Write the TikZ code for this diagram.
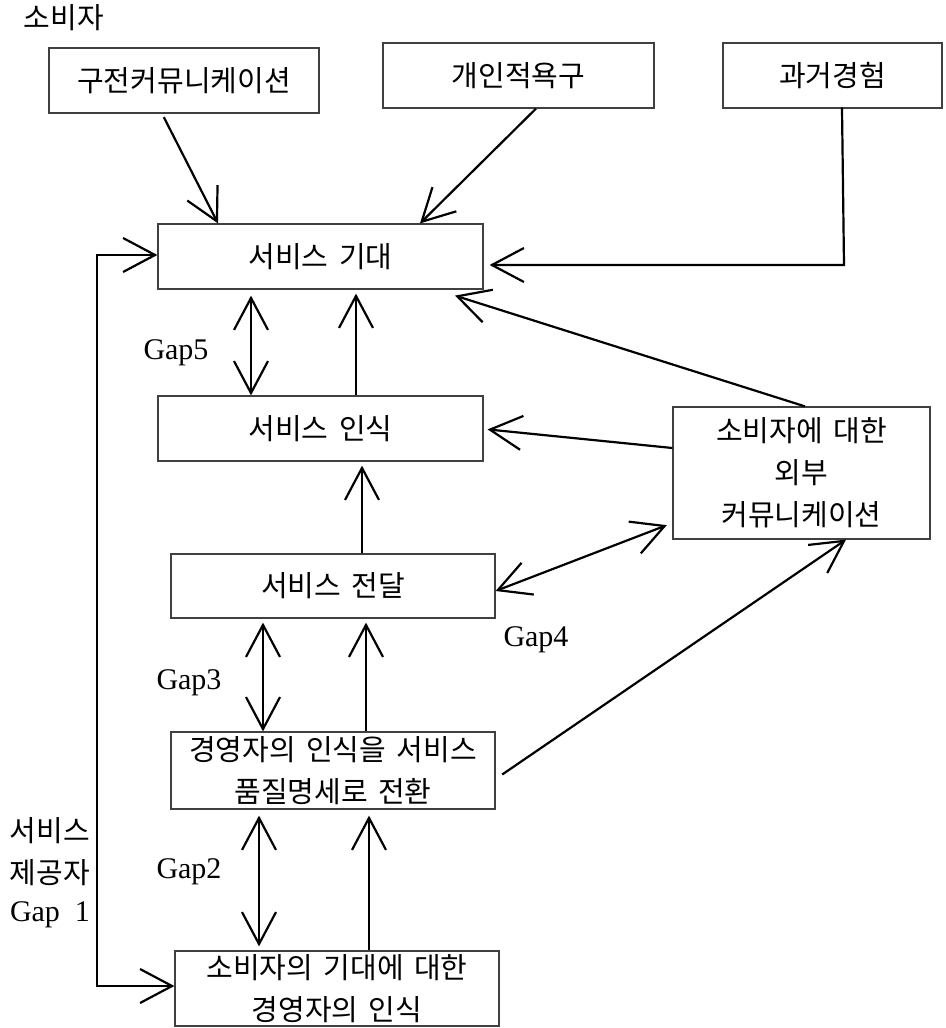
\documentclass[tikz,border=0pt]{standalone}
\usepackage{fontspec}
\setmainfont{Liberation Serif}
\newfontfamily\kr[WordSpace=1.6]{Noto Sans CJK KR}
\usetikzlibrary{arrows.meta,calc}
\tikzset{
  box/.style={draw=black!75, line width=0.6pt, inner sep=0pt, align=center,
              font=\kr\fontsize{14.5}{21}\selectfont},
  conn/.style={line width=1.1pt, -{Straight Barb[length=16pt,width=17pt,line width=1.1pt]}},
  dconn/.style={line width=1.1pt, {Straight Barb[length=16pt,width=17pt,line width=1.1pt]}-{Straight Barb[length=16pt,width=17pt,line width=1.1pt]}},
  lbl/.style={font=\fontsize{15}{21}\selectfont, inner sep=0pt, align=center},
  klbl/.style={font=\kr\fontsize{14.5}{21}\selectfont, inner sep=0pt, align=center}
}
\begin{document}
\begin{tikzpicture}[x=0.5pt,y=-0.5pt]
\useasboundingbox (0,0) rectangle (946,1028);
% boxes
\node[box, minimum width=135pt, minimum height=32.5pt] (wom) at (184,80.5) {구전커뮤니케이션};
\node[box, minimum width=135.5pt, minimum height=32.5pt] (need) at (518.5,75.5) {개인적욕구};
\node[box, minimum width=109.5pt, minimum height=32.5pt] (past) at (832.5,75.5) {과거경험};
\node[box, minimum width=162.5pt, minimum height=32.5pt] (exp) at (320.5,256.5) {서비스 기대};
\node[box, minimum width=162.5pt, minimum height=32.5pt] (perc) at (320.5,428.5) {서비스 인식};
\node[box, minimum width=162pt, minimum height=32pt] (deliv) at (333,586) {서비스 전달};
\node[box, minimum width=128.5pt, minimum height=66pt] (ext) at (801.5,473) {소비자에 대한\\외부\\커뮤니케이션};
\node[box, minimum width=162pt, minimum height=38.5pt] (spec) at (333,770.5) {경영자의 인식을 서비스\\품질명세로 전환};
\node[box, minimum width=162pt, minimum height=37.5pt] (mgmt) at (337,988.5) {소비자의 기대에 대한\\경영자의 인식};
% labels
\node[klbl] (cons) at (64,18) {소비자};
\node[lbl] (g5) at (176,353) {Gap5};
\node[lbl] (g4) at (536,640) {Gap4};
\node[lbl] (g3) at (189,683) {Gap3};
\node[lbl] (g2) at (189,872) {Gap2};
\node[klbl] (prov) at (50,852) {서비스\\제공자};
\node[lbl] (g1) at (50,915) {Gap\hspace{0.5em}1};
% coordinates
\coordinate (pc) at (844,265);
\coordinate (lt) at (97,255);
\coordinate (lb) at (97,986);
% connectors from top
\draw[conn, shorten <=2pt] (wom.south -| 162,0) -- (exp.north -| 218,0);
\draw[conn] (need.south -| 536,0) -- (exp.north -| 420,0);
\draw[conn, shorten >=3pt, line cap=rect] (past.south -| 842,0) -- (pc) -- (exp.east |- pc);
% left loop
\draw[dconn] (exp.west |- lt) -- (lt) -- (lb) -- (mgmt.west |- lb);
% vertical
\draw[dconn, shorten <=3pt] (exp.south -| 251,0) -- (perc.north -| 251,0);
\draw[conn, shorten >=2pt] (perc.north -| 356,0) -- (exp.south -| 356,0);
\draw[conn, shorten >=2pt] (deliv.north -| 362,0) -- (perc.south -| 362,0);
\draw[dconn, shorten <=2pt] (deliv.south -| 263,0) -- (spec.north -| 263,0);
\draw[conn, shorten >=2pt] (spec.north -| 366,0) -- (deliv.south -| 366,0);
\draw[dconn, shorten <=3pt, shorten >=2pt] (spec.south -| 259,0) -- (mgmt.north -| 259,0);
\draw[conn, shorten >=3pt] (mgmt.north -| 369,0) -- (spec.south -| 369,0);
% diagonals with ext
\draw[conn] (ext.north -| 805,0) -- ($(exp.south -| 455,0)+(0,6)$);
\draw[conn, shorten >=2pt] (ext.west |- 0,448) -- (perc.east |- 0,429);
\draw[dconn, shorten >=3pt] (deliv.east |- 0,591) -- (ext.west |- 0,523);
\draw[conn, shorten <=4pt] (spec.east |- 0,779) -- (ext.south -| 846,0);
\end{tikzpicture}
\end{document}
